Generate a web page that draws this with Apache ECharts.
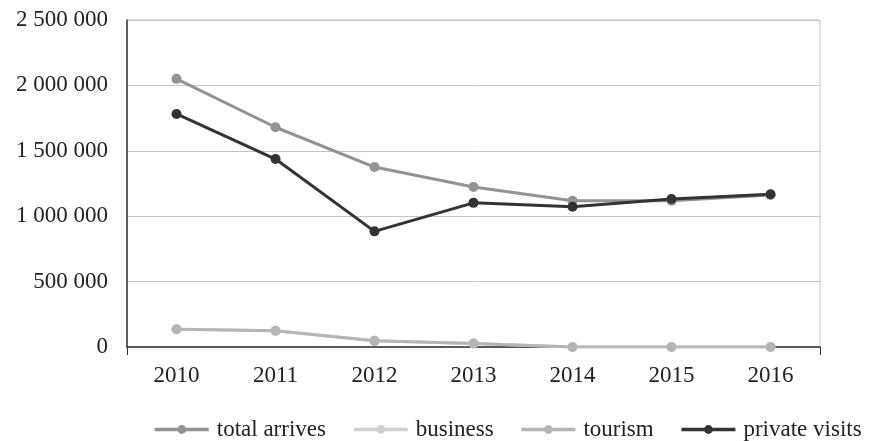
<!DOCTYPE html>
<html>
<head>
<meta charset="utf-8">
<script src="https://cdn.jsdelivr.net/npm/echarts@6/dist/echarts.min.js"></script>
<style>
html,body{margin:0;padding:0;background:#fff;}
#chart{width:882px;height:441px;}
</style>
</head>
<body>
<div id="chart"></div>
<script>
var categories = ['2010','2011','2012','2013','2014','2015','2016'];
var totalArrives = [2050000, 1680000, 1376000, 1223000, 1118000, 1118000, 1163000];
var business = [136000, 124000, 47000, 27000, 0, 0, 0];
var tourism = [136000, 124000, 47000, 27000, 0, 0, 0];
var privateVisits = [1782000, 1437000, 884000, 1102000, 1072000, 1131000, 1168000];
var seriesNames = ['total arrives', 'business', 'tourism', 'private visits'];
var seriesColors = ['#939393', '#d0d0d0', '#b5b5b5', '#333333'];

var font = 'Liberation Serif';
function fmt(v){ return String(v).replace(/\B(?=(\d{3})+(?!\d))/g, ' '); }

var dataSets = [totalArrives, business, tourism, privateVisits];
var series = dataSets.map(function(d, i){
  return {
    name: seriesNames[i],
    type: 'line',
    data: d,
    symbol: 'circle',
    symbolSize: 10,
    lineStyle: {width: 3, color: seriesColors[i]},
    itemStyle: {color: seriesColors[i]},
    emphasis: {disabled: true},
    animation: false
  };
});

var chart = echarts.init(document.getElementById('chart'));
chart.setOption({
  backgroundColor: '#fff',
  animation: false,
  grid: {left: 127, right: 62, top: 20, bottom: 94, show: true, borderColor: '#c4c4c4', borderWidth: 1},
  legend: {
    top: 413,
    left: 148,
    itemWidth: 54,
    itemHeight: 11,
    itemGap: 26,
    lineStyle: {width: 3.5},
    textStyle: {fontFamily: font, fontSize: 23, color: '#222', padding: [0, 0, 0, 3]},
    data: seriesNames
  },
  xAxis: {
    type: 'category',
    data: categories,
    boundaryGap: true,
    axisLine: {lineStyle: {color: '#333', width: 1.5}},
    axisTick: {show: true, length: 8, lineStyle: {color: '#333'}, interval: function(i){ return i === 0; }},
    axisLabel: {fontFamily: font, fontSize: 23, color: '#222', margin: 17}
  },
  yAxis: {
    type: 'value',
    min: 0,
    max: 2500000,
    interval: 500000,
    axisLine: {show: true, lineStyle: {color: '#333', width: 1.5}},
    axisTick: {show: false},
    splitLine: {lineStyle: {color: '#c4c4c4', width: 1}},
    axisLabel: {fontFamily: font, fontSize: 23, color: '#222', margin: 19, formatter: fmt}
  },
  series: series
});
</script>
</body>
</html>
